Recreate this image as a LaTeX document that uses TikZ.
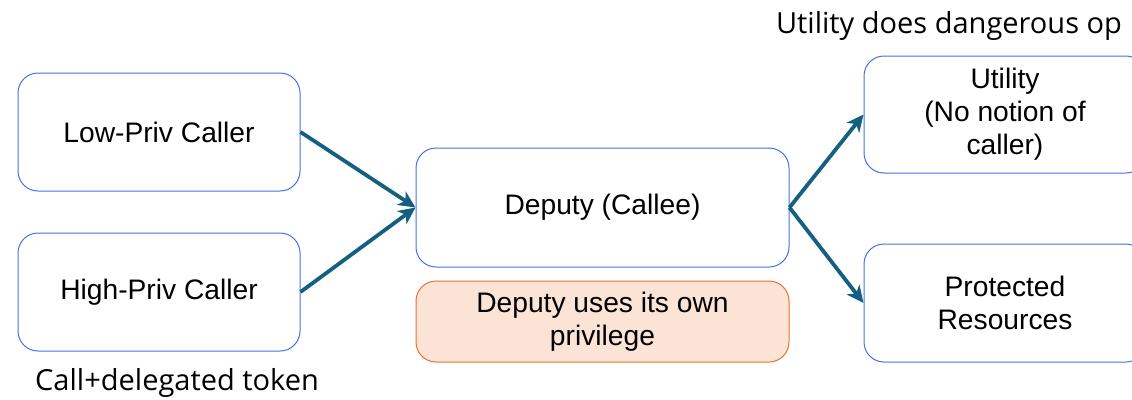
\documentclass[tikz,border=0pt]{standalone}
\usepackage{fontspec}
\setmainfont{Liberation Sans}
\newfontfamily\labfont{Open Sans}
\usetikzlibrary{arrows.meta}
\definecolor{boxblue}{HTML}{4472E4}
\definecolor{arrowteal}{HTML}{156082}
\definecolor{orfill}{HTML}{FBE3D6}
\definecolor{ordraw}{HTML}{E97132}
\tikzset{
  box/.style={draw=boxblue, line width=1pt, rounded corners=20pt, fill=white,
    align=center, font=\fontsize{28.2}{33}\selectfont, inner sep=0pt},
  notebox/.style={box, draw=ordraw, fill=orfill},
  flow/.style={draw=arrowteal, line width=3.8pt,
    -{Stealth[length=17pt,width=16pt,inset=5pt]}},
  lab/.style={font=\labfont\fontsize{29}{34}\selectfont, anchor=base, inner sep=0pt}
}
\begin{document}
\begin{tikzpicture}[x=1pt,y=-1pt]
\useasboundingbox (0,0) rectangle (1132,399);
\clip (0,0) rectangle (1132,399);
\node[box, minimum width=282pt, minimum height=118pt] (low) at (159,132) {Low-Priv Caller};
\node[box, minimum width=282pt, minimum height=118pt] (high) at (159,292) {High-Priv Caller};
\node[box, minimum width=373pt, minimum height=119pt] (dep) at (602.5,207.5) {Deputy (Callee)};
\node[notebox, minimum width=373pt, minimum height=81pt] (own) at (602.5,321.5) {Deputy uses its own\\privilege};
\node[box, minimum width=282pt, minimum height=117pt] (util) at (1005,114.5) {Utility\\(No notion of\\caller)};
\node[box, minimum width=282pt, minimum height=118pt] (prot) at (1005,303) {Protected\\Resources};
\node[lab] (title) at (949,33) {Utility does dangerous op};
\node[lab] (call) at (177,390) {Call+delegated token};
\draw[flow] (low.east) -- (dep.west);
\draw[flow] (high.east) -- (dep.west);
\draw[flow] (dep.east) -- (util.west);
\draw[flow] (dep.east) -- (prot.west);
\end{tikzpicture}
\end{document}
